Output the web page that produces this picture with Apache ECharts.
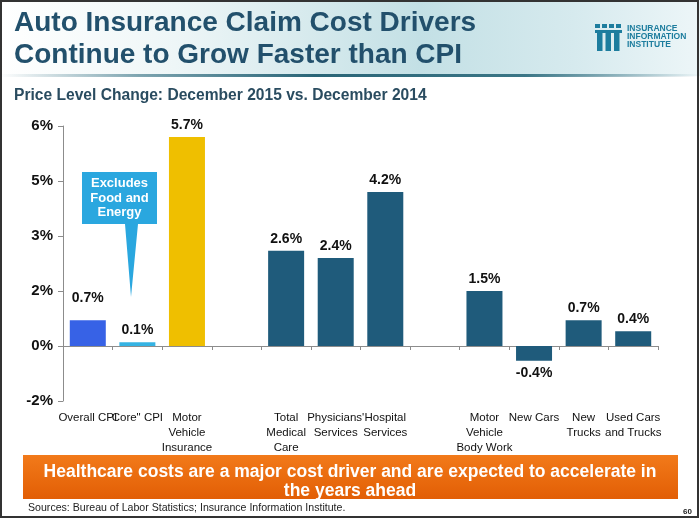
<!DOCTYPE html>
<html>
<head>
<meta charset="utf-8">
<script src="https://cdn.jsdelivr.net/npm/echarts@6/dist/echarts.min.js"></script>
<style>
html,body{margin:0;padding:0;background:#fff;}
#chart{width:700px;height:519px;}
</style>
</head>
<body>
<div id="chart"></div>
<script>
// ---- data ----
var categories = ['Overall CPI', 'Core" CPI', 'Motor\nVehicle\nInsurance', '', 'Total\nMedical\nCare', "Physicians'\nServices", 'Hospital\nServices', '', 'Motor\nVehicle\nBody Work', 'New Cars', 'New\nTrucks', 'Used Cars\nand Trucks'];
var values = [0.7, 0.1, 5.7, null, 2.6, 2.4, 4.2, null, 1.5, -0.4, 0.7, 0.4];
var valueLabels = ['0.7%', '0.1%', '5.7%', '', '2.6%', '2.4%', '4.2%', '', '1.5%', '-0.4%', '0.7%', '0.4%'];
var yTickValues = [-1.5, 0, 1.5, 3, 4.5, 6];
var yTickLabels = ['-2%', '0%', '2%', '3%', '5%', '6%'];

var colorOverall = '#3762e6';
var colorCore = '#35b3e3';
var colorIns = '#efbf00';
var colorOther = '#1f5b7b';
var barColors = [colorOverall, colorCore, colorIns, colorOther, colorOther, colorOther, colorOther, colorOther, colorOther, colorOther, colorOther, colorOther];

var seriesData = values.map(function (v, i) {
  var item = { value: v, itemStyle: { color: barColors[i] } };
  var lab = { formatter: valueLabels[i] };
  if (v !== null && v < 0) { lab.position = 'bottom'; }
  if (i === 0) { lab.offset = [0, -10]; }
  item.label = lab;
  return item;
});

var chart = echarts.init(document.getElementById('chart'), null, { renderer: 'canvas' });

var titleColor = '#22506c';
var teal = '#1d7d9e';

var option = {
  animation: false,
  backgroundColor: '#ffffff',
  grid: { left: 63, right: 42, top: 126, bottom: 118, containLabel: false },
  xAxis: [
    {
      type: 'category',
      data: categories,
      position: 'bottom',
      axisLine: { show: false, onZero: false },
      axisTick: { show: false },
      axisLabel: {
        interval: 0,
        color: '#111',
        fontFamily: 'Liberation Sans, Arial, sans-serif',
        fontSize: 11.5,
        lineHeight: 15,
        margin: 9,
        verticalAlign: 'top'
      }
    },
    {
      type: 'category',
      data: categories,
      position: 'top',
      axisLine: { show: true, onZero: true, lineStyle: { color: '#8c8c8c', width: 1 } },
      axisTick: { show: true, interval: 0, inside: true, length: 4, lineStyle: { color: '#8c8c8c' } },
      axisLabel: { show: false, interval: 0 }
    }
  ],
  yAxis: {
    type: 'value',
    min: -1.5,
    max: 6,
    interval: 1.5,
    axisLine: { show: true, lineStyle: { color: '#8c8c8c', width: 1 } },
    axisTick: { show: true, length: 5, lineStyle: { color: '#8c8c8c' } },
    splitLine: { show: false },
    axisLabel: {
      margin: 10,
      color: '#111',
      fontWeight: 'bold',
      fontSize: 15,
      fontFamily: 'Liberation Sans, Arial, sans-serif',
      formatter: function (v) {
        for (var k = 0; k < yTickValues.length; k++) {
          if (Math.abs(yTickValues[k] - v) < 1e-6) return yTickLabels[k];
        }
        return '';
      }
    }
  },
  series: [{
    type: 'bar',
    xAxisIndex: 0,
    data: seriesData,
    barWidth: 36,
    label: {
      show: true,
      position: 'top',
      distance: 5,
      color: '#111',
      fontWeight: 'bold',
      fontSize: 14,
      fontFamily: 'Liberation Sans, Arial, sans-serif'
    }
  }],
  graphic: [
    {
      type: 'rect', z: -10, silent: true,
      shape: { x: 0, y: 0, width: 700, height: 76 },
      style: {
        fill: new echarts.graphic.LinearGradient(0, 0, 1, 0, [
          { offset: 0, color: '#ffffff' },
          { offset: 0.25, color: '#eef6f7' },
          { offset: 0.6, color: '#c3e0e5' },
          { offset: 0.82, color: '#d6eaee' },
          { offset: 1, color: '#edf6f8' }
        ])
      }
    },
    {
      type: 'rect', z: -9, silent: true,
      shape: { x: 0, y: 74, width: 700, height: 3 },
      style: {
        fill: new echarts.graphic.LinearGradient(0, 0, 1, 0, [
          { offset: 0, color: 'rgba(45,107,126,0)' },
          { offset: 0.2, color: 'rgba(45,107,126,0.6)' },
          { offset: 0.45, color: '#2a6577' },
          { offset: 0.75, color: '#3b7686' },
          { offset: 1, color: 'rgba(45,107,126,0)' }
        ])
      }
    },
    {
      type: 'text', left: 14, top: 7,
      style: {
        text: 'Auto Insurance Claim Cost Drivers\nContinue to Grow Faster than CPI',
        fill: titleColor,
        font: 'bold 28px "Liberation Sans", Arial, sans-serif',
        lineHeight: 32
      }
    },
    {
      type: 'text', left: 14, top: 88,
      style: {
        text: 'Price Level Change: December 2015 vs. December 2014',
        fill: '#2a4c60',
        font: 'bold 15.6px "Liberation Sans", Arial, sans-serif'
      }
    },
    {
      type: 'group', left: 595, top: 24,
      children: [
        { type: 'rect', shape: { x: 0, y: 0, width: 5, height: 4 }, style: { fill: teal } },
        { type: 'rect', shape: { x: 7, y: 0, width: 5, height: 4 }, style: { fill: teal } },
        { type: 'rect', shape: { x: 14, y: 0, width: 5, height: 4 }, style: { fill: teal } },
        { type: 'rect', shape: { x: 21, y: 0, width: 5, height: 4 }, style: { fill: teal } },
        { type: 'rect', shape: { x: 0, y: 6, width: 27, height: 3 }, style: { fill: teal } },
        { type: 'rect', shape: { x: 2, y: 9, width: 5.5, height: 18 }, style: { fill: teal } },
        { type: 'rect', shape: { x: 10.5, y: 9, width: 5.5, height: 18 }, style: { fill: teal } },
        { type: 'rect', shape: { x: 19, y: 9, width: 5.5, height: 18 }, style: { fill: teal } }
      ]
    },
    {
      type: 'text', left: 627, top: 24,
      style: {
        text: 'INSURANCE\nINFORMATION\nINSTITUTE',
        fill: teal,
        font: 'bold 8.5px "Liberation Sans", Arial, sans-serif',
        lineHeight: 8
      }
    },
    {
      type: 'polygon', z: 50,
      shape: { points: [[82, 172], [157, 172], [157, 224], [138, 224], [131, 297], [125, 224], [82, 224]] },
      style: { fill: '#2aa7df' }
    },
    {
      type: 'text', z: 51, x: 119.5, y: 198,
      style: {
        text: 'Excludes\nFood and\nEnergy',
        fill: '#ffffff',
        font: 'bold 13px "Liberation Sans", Arial, sans-serif',
        lineHeight: 14.5,
        align: 'center',
        verticalAlign: 'middle'
      }
    },
    {
      type: 'rect',
      shape: { x: 23, y: 455, width: 655, height: 44 },
      style: {
        fill: new echarts.graphic.LinearGradient(0, 0, 0, 1, [
          { offset: 0, color: '#f27a1a' },
          { offset: 1, color: '#e25e05' }
        ])
      }
    },
    {
      type: 'text', x: 350, y: 481.5,
      style: {
        text: 'Healthcare costs are a major cost driver and are expected to accelerate in\nthe years ahead',
        fill: '#ffffff',
        font: 'bold 17.5px "Liberation Sans", Arial, sans-serif',
        lineHeight: 19.5,
        align: 'center',
        verticalAlign: 'middle'
      }
    },
    {
      type: 'text', left: 28, top: 503,
      style: {
        text: 'Sources: Bureau of Labor Statistics; Insurance Information Institute.',
        fill: '#222',
        font: '10.6px "Liberation Sans", Arial, sans-serif'
      }
    },
    {
      type: 'text', left: 683, top: 508,
      style: {
        text: '60',
        fill: '#222',
        font: 'bold 8px "Liberation Sans", Arial, sans-serif'
      }
    },
    {
      type: 'rect', z: 100, silent: true,
      shape: { x: 1, y: 1, width: 697, height: 516 },
      style: { fill: 'none', stroke: '#333', lineWidth: 2 }
    }
  ]
};
chart.setOption(option);
</script>
</body>
</html>
